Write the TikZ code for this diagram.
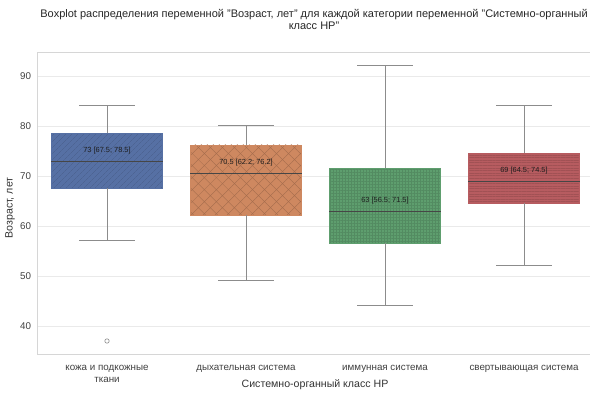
\documentclass[tikz,border=0pt]{standalone}
\usepackage{fontspec}
\setmainfont{Liberation Sans}
\usetikzlibrary{patterns.meta}

\definecolor{boxblue}{RGB}{86,112,164}
\definecolor{boxorange}{RGB}{206,136,96}
\definecolor{boxgreen}{RGB}{94,158,110}
\definecolor{boxred}{RGB}{183,92,96}
\definecolor{whiskgray}{RGB}{140,140,140}
\definecolor{medgray}{RGB}{70,70,70}
\definecolor{gridgray}{RGB}{234,234,234}
\definecolor{framegray}{RGB}{214,214,214}
\definecolor{labgray}{RGB}{30,30,30}

\tikzset{
	whisker/.style={color=whiskgray, line width=1pt},
	median/.style={color=medgray, line width=0.6pt},
	boxlabel/.style={font=\fontsize{7.4}{8}\selectfont, text=labgray, inner sep=0pt},
	ticklabel/.style={font=\fontsize{9.8}{11.5}\selectfont, text=black!75, inner sep=0pt},
}

\begin{document}
\begin{tikzpicture}[x=1pt, y=1pt]
	\useasboundingbox (0, 0) rectangle (590, 394);

	% title
	\node[font=\fontsize{11}{12}\selectfont, text=black!85, align=center, anchor=north] (title) at (314, 388.5)
		{Boxplot распределения переменной "Возраст, лет" для каждой категории переменной "Системно-органный\\класс HP"};

	% data coordinates: category along x, age along y
	\begin{scope}[x=139pt, y=5pt, shift={(107pt, -132pt)}]
		\def\ymin{34.4}
		\def\ymax{94.8}

		% grid and ticks
		\foreach \v in {40, 50, ..., 90} {
			\draw[gridgray, line width=0.9pt] (-0.5, \v) -- (3.6, \v);
			\node[ticklabel, anchor=east] (ytick\v) at (-0.545, \v) {\v};
		}
		\draw[framegray, line width=0.9pt] (3.6, \ymax) -- (-0.5, \ymax) -- (-0.5, \ymin) -- (3.6, \ymin);

		% boxes
		\fill[boxblue] (-0.4, 67.5) rectangle (0.4, 78.5);
		\fill[pattern={Lines[angle=45, distance=4pt, line width=0.3pt]}, pattern color=boxblue!85!black] (-0.4, 67.5) rectangle (0.4, 78.5);
		\draw[boxblue, line width=0.6pt] (-0.4, 67.5) rectangle (0.4, 78.5);

		\fill[boxorange] (0.6, 62.2) rectangle (1.4, 76.2);
		\fill[pattern={Lines[angle=45, distance=8.5pt, line width=0.35pt]}, pattern color=boxorange!78!black] (0.6, 62.2) rectangle (1.4, 76.2);
		\fill[pattern={Lines[angle=-45, distance=8.5pt, line width=0.35pt]}, pattern color=boxorange!78!black] (0.6, 62.2) rectangle (1.4, 76.2);
		\draw[boxorange, line width=0.6pt] (0.6, 62.2) rectangle (1.4, 76.2);

		\fill[boxgreen] (1.6, 56.5) rectangle (2.4, 71.5);
		\fill[pattern={Lines[angle=0, distance=3pt, line width=0.25pt]}, pattern color=boxgreen!88!black] (1.6, 56.5) rectangle (2.4, 71.5);
		\fill[pattern={Lines[angle=90, distance=3pt, line width=0.25pt]}, pattern color=boxgreen!88!black] (1.6, 56.5) rectangle (2.4, 71.5);
		\draw[boxgreen, line width=0.6pt] (1.6, 56.5) rectangle (2.4, 71.5);

		\fill[boxred] (2.6, 64.5) rectangle (3.4, 74.5);
		\fill[pattern={Lines[angle=0, distance=2.6pt, line width=0.3pt]}, pattern color=boxred!88!black] (2.6, 64.5) rectangle (3.4, 74.5);
		\draw[boxred, line width=0.6pt] (2.6, 64.5) rectangle (3.4, 74.5);

		% whiskers
		\draw[whisker] (0, 78.5) -- (0, 84) (-0.2, 84) -- (0.2, 84);
		\draw[whisker] (0, 67.5) -- (0, 57) (-0.2, 57) -- (0.2, 57);
		\draw[whisker] (1, 76.2) -- (1, 80) (0.8, 80) -- (1.2, 80);
		\draw[whisker] (1, 62.2) -- (1, 49) (0.8, 49) -- (1.2, 49);
		\draw[whisker] (2, 71.5) -- (2, 92) (1.8, 92) -- (2.2, 92);
		\draw[whisker] (2, 56.5) -- (2, 44) (1.8, 44) -- (2.2, 44);
		\draw[whisker] (3, 74.5) -- (3, 84) (2.8, 84) -- (3.2, 84);
		\draw[whisker] (3, 64.5) -- (3, 52) (2.8, 52) -- (3.2, 52);

		% medians
		\draw[median] (-0.4, 73) -- (0.4, 73);
		\draw[median] (0.6, 70.5) -- (1.4, 70.5);
		\draw[median] (1.6, 63) -- (2.4, 63);
		\draw[median] (2.6, 69) -- (3.4, 69);

		% outlier
		\draw[whiskgray, line width=0.6pt] (0, 37) circle (2.2pt);

		% labels
		\node[boxlabel] (lab0) at (0, 75.1) {73 [67.5; 78.5]};
		\node[boxlabel] (lab1) at (1, 72.7) {70.5 [62.2; 76.2]};
		\node[boxlabel] (lab2) at (2, 65) {63 [56.5; 71.5]};
		\node[boxlabel] (lab3) at (3, 71.1) {69 [64.5; 74.5]};

		% category ticks
		\node[ticklabel, align=center, anchor=north] (xtick0) at (0, 32.1) {кожа и подкожные\\ткани};
		\node[ticklabel, anchor=north] (xtick1) at (1, 32.1) {дыхательная система};
		\node[ticklabel, anchor=north] (xtick2) at (2, 32.1) {иммунная система};
		\node[ticklabel, anchor=north] (xtick3) at (3, 32.1) {свертывающая система};
	\end{scope}

	% axis labels
	\node[font=\fontsize{10.6}{12}\selectfont, text=black!80] (xlabel) at (315, 9) {Системно-органный класс HP};
	\node[font=\fontsize{10.6}{12}\selectfont, text=black!80, rotate=90] (ylabel) at (10, 186) {Возраст, лет};
\end{tikzpicture}
\end{document}
